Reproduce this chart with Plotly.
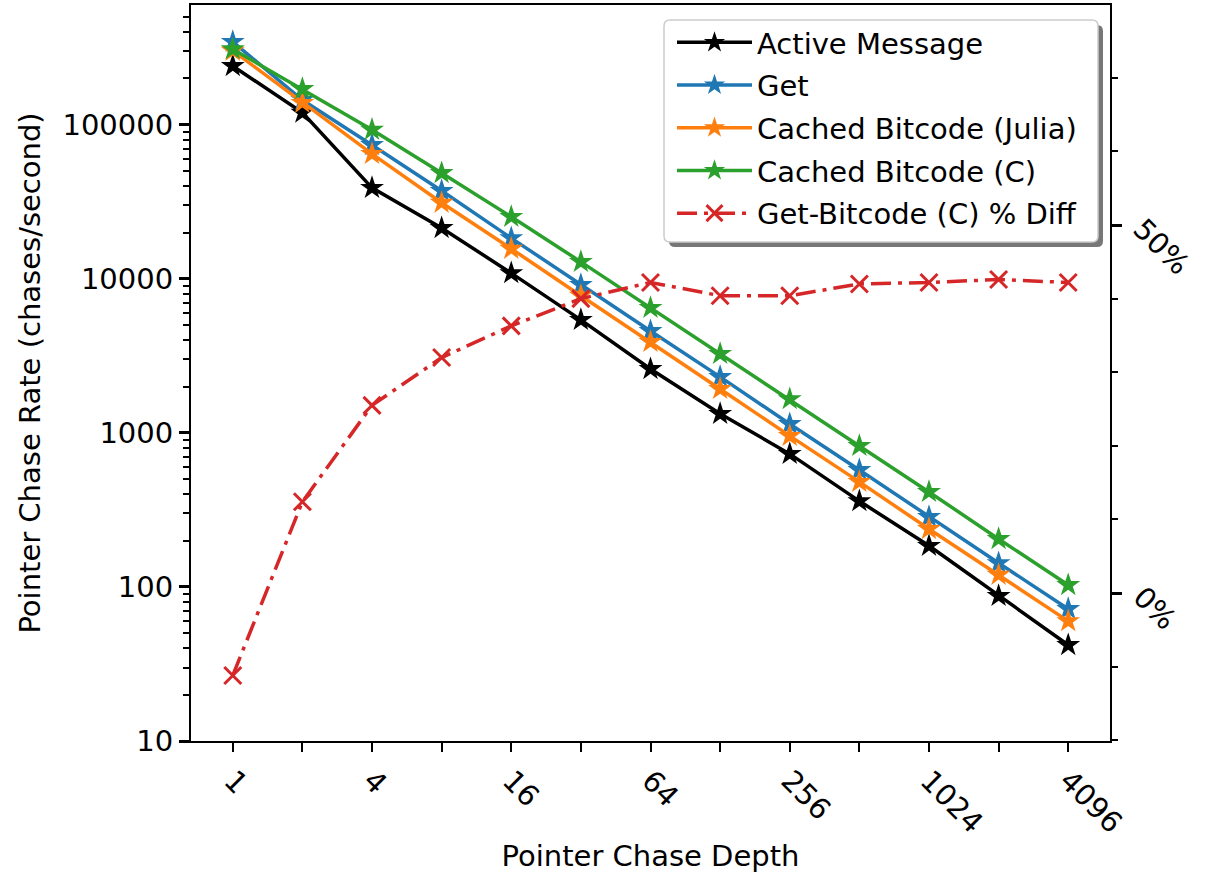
import plotly.graph_objects as go

# Pointer chase depth (powers of two)
depth = [1, 2, 4, 8, 16, 32, 64, 128, 256, 512, 1024, 2048, 4096]

# Chase rates (chases/second)
active_message = [241000, 120000, 39000, 21400, 10900, 5420, 2600, 1330, 731, 361, 185, 87.5, 42]
get_rate = [346000, 145000, 74000, 37300, 18400, 9150, 4590, 2310, 1143, 575, 285, 143, 72]
cached_julia = [303000, 139000, 64800, 31200, 15700, 7770, 3900, 1930, 957, 481, 238, 120, 60]
cached_c = [310000, 171000, 93000, 48700, 25300, 12900, 6490, 3260, 1660, 824, 414, 205, 103]

# Percent difference between Get and Cached Bitcode (C)
pct_diff = [-11.2, 12.4, 25.5, 32.0, 36.3, 40.0, 42.2, 40.4, 40.4, 42.0, 42.2, 42.6, 42.2]

x_major = [1, 4, 16, 64, 256, 1024, 4096]
x_minor = [2, 8, 32, 128, 512, 2048]
y_major = [10, 100, 1000, 10000, 100000]
y_major_text = ["10", "100", "1000", "10000", "100000"]
y_minor = [m * 10 ** e for e in range(1, 6) for m in range(2, 10) if m * 10 ** e < 6e5]
y2_major = [0, 50]
y2_major_text = ["0%", "50%"]
y2_minor = [-20, -10, 10, 20, 30, 40, 60, 70, 80]

FONT = "DejaVu Sans"
FS = 29

fig = go.Figure()

series = [
    ("Active Message", active_message, "#000000"),
    ("Get", get_rate, "#1f77b4"),
    ("Cached Bitcode (Julia)", cached_julia, "#ff7f0e"),
    ("Cached Bitcode (C)", cached_c, "#2ca02c"),
]
for name, vals, color in series:
    fig.add_trace(go.Scatter(
        x=depth, y=vals, name=name, mode="lines+markers",
        line=dict(color=color, width=3.5),
        marker=dict(symbol="star", size=18, color=color, line=dict(width=0)),
        legendgroup=name,
    ))

fig.add_trace(go.Scatter(
    x=depth, y=pct_diff, name="Get-Bitcode (C) % Diff", mode="lines+markers",
    yaxis="y2",
    line=dict(color="#d62728", width=3.5, dash="20px,7px,4px,7px"),
    marker=dict(symbol="x-thin", size=17, color="#d62728",
                line=dict(width=3, color="#d62728")),
    legendgroup="diff",
))

L, R, T, B = 191, 103, 5, 132
W, H = 1213, 873
pw, ph = W - L - R, H - T - B


def px2paper(px, py):
    return (px - L) / pw, (H - B - py) / ph


def rounded_box(x0, y0, x1, y1, r):
    # rounded rectangle given in pixels, emitted in paper coordinates
    def p(x, y):
        u, v = px2paper(x, y)
        return f"{u:.5f},{v:.5f}"
    return (f"M {p(x0 + r, y0)} L {p(x1 - r, y0)} Q {p(x1, y0)} {p(x1, y0 + r)} "
            f"L {p(x1, y1 - r)} Q {p(x1, y1)} {p(x1 - r, y1)} "
            f"L {p(x0 + r, y1)} Q {p(x0, y1)} {p(x0, y1 - r)} "
            f"L {p(x0, y0 + r)} Q {p(x0, y0)} {p(x0 + r, y0)} Z")


leg_x, leg_y = px2paper(672, 17)

fig.update_layout(
    width=W, height=H,
    margin=dict(l=L, r=R, t=T, b=B, autoexpand=False),
    paper_bgcolor="white", plot_bgcolor="white",
    font=dict(family=FONT, size=FS, color="black"),
    showlegend=True,
    legend=dict(
        x=leg_x, y=leg_y, xanchor="left", yanchor="top",
        bgcolor="rgba(0,0,0,0)", borderwidth=0,
        font=dict(family=FONT, size=FS, color="black"),
        tracegroupgap=2, itemwidth=75,
    ),
    xaxis=dict(
        type="log",
        range=[-0.1806, 3.7930],
        tickmode="array", tickvals=x_major, ticktext=[str(v) for v in x_major],
        tickangle=45,
        ticks="outside", ticklen=9, tickwidth=1.5, tickcolor="black",
        minor=dict(tickmode="array", tickvals=x_minor, ticks="outside",
                   ticklen=9, tickwidth=1.5, tickcolor="black", showgrid=False),
        showgrid=False, zeroline=False,
        showline=True, linecolor="black", linewidth=2, mirror=True,
        title=dict(text="Pointer Chase Depth", standoff=10,
                   font=dict(family=FONT, size=FS)),
        tickfont=dict(family=FONT, size=FS),
    ),
    yaxis=dict(
        type="log",
        range=[1, 5.778],
        tickmode="array", tickvals=y_major, ticktext=y_major_text,
        ticks="outside", ticklen=10, tickwidth=3, tickcolor="black",
        minor=dict(tickmode="array", tickvals=y_minor, ticks="outside",
                   ticklen=6, tickwidth=1.5, tickcolor="black", showgrid=False),
        showgrid=False, zeroline=False,
        showline=True, linecolor="black", linewidth=2,
        title=dict(text="Pointer Chase Rate (chases/second)", standoff=13,
                   font=dict(family=FONT, size=FS)),
        tickfont=dict(family=FONT, size=FS),
    ),
    yaxis2=dict(
        overlaying="y", side="right",
        range=[-20.1, 79.9],
        tickmode="array", tickvals=y2_major, ticktext=y2_major_text,
        tickangle=45, ticklabelstandoff=14,
        ticks="outside", ticklen=10, tickwidth=3, tickcolor="black",
        minor=dict(tickmode="array", tickvals=y2_minor, ticks="outside",
                   ticklen=6, tickwidth=1.5, tickcolor="black", showgrid=False),
        showgrid=False, zeroline=False,
        showline=True, linecolor="black", linewidth=2,
        tickfont=dict(family=FONT, size=FS),
    ),
)

# legend frame with a drop shadow
fig.add_shape(type="path", xref="paper", yref="paper",
              path=rounded_box(669, 25, 1103, 247, 6),
              fillcolor="#777777", line=dict(width=0), layer="above")
fig.add_shape(type="path", xref="paper", yref="paper",
              path=rounded_box(664, 20, 1098, 242, 6),
              fillcolor="white", line=dict(width=1.5, color="#cccccc"), layer="above")

fig.write_html("out.html")
